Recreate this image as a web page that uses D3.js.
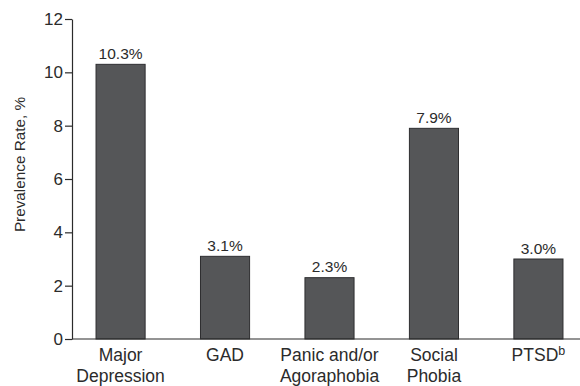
<!DOCTYPE html>
<html>
<head>
<meta charset="utf-8">
<script src="https://cdn.jsdelivr.net/npm/d3@7"></script>
<style>
  html, body { margin: 0; padding: 0; background: #fff; }
  svg { display: block; font-family: "Liberation Sans", Arial, sans-serif; }
</style>
</head>
<body>
<svg id="chart" width="580" height="386"></svg>
<script>
// Prevalence of mental disorders
const categories = ["Major Depression", "GAD", "Panic and/or Agoraphobia", "Social Phobia", "PTSD"];
const labelLines = [["Major", "Depression"], ["GAD"], ["Panic and/or", "Agoraphobia"], ["Social", "Phobia"], ["PTSD"]];
const values = [10.3, 3.1, 2.3, 7.9, 3.0];
const valueLabels = ["10.3%", "3.1%", "2.3%", "7.9%", "3.0%"];
const yTicks = [0, 2, 4, 6, 8, 10, 12];

const svg = d3.select("#chart");
const ink = "#2b2b2b";

const x = d3.scaleBand()
  .domain(categories)
  .range([72, 587])
  .paddingInner(0.53)
  .paddingOuter(0.23);

const y = d3.scaleLinear().domain([0, 12]).range([339, 19]);

// Bars
svg.append("g").selectAll("rect")
  .data(categories)
  .join("rect")
  .attr("x", d => x(d))
  .attr("y", (d, i) => y(values[i]))
  .attr("width", x.bandwidth())
  .attr("height", (d, i) => y(0) - y(values[i]))
  .attr("fill", "#555658")
  .attr("stroke", "#2e2e30")
  .attr("stroke-width", 1);

// Value labels
svg.append("g").selectAll("text")
  .data(categories)
  .join("text")
  .attr("x", d => x(d) + x.bandwidth() / 2)
  .attr("y", (d, i) => y(values[i]) - 5.5)
  .attr("text-anchor", "middle")
  .attr("font-size", 15.5)
  .attr("fill", ink)
  .text((d, i) => valueLabels[i]);

// Y axis
const yAxis = svg.append("g")
  .attr("transform", "translate(72,0)")
  .call(d3.axisLeft(y).tickValues(yTicks).tickSize(7).tickSizeOuter(0).tickPadding(2));
yAxis.select(".domain").attr("stroke", ink).attr("stroke-width", 1.2);
yAxis.selectAll(".tick line").attr("stroke", ink).attr("stroke-width", 1.2);
yAxis.selectAll(".tick text")
  .attr("font-size", 17)
  .attr("font-family", "Liberation Sans, Arial, sans-serif")
  .attr("fill", ink);

// X baseline
svg.append("line")
  .attr("x1", 72).attr("x2", 580)
  .attr("y1", y(0)).attr("y2", y(0))
  .attr("stroke", ink).attr("stroke-width", 1.2);

// Category labels
const cat = svg.append("g").selectAll("text")
  .data(categories)
  .join("text")
  .attr("x", d => x(d) + x.bandwidth() / 2)
  .attr("y", 361)
  .attr("text-anchor", "middle")
  .attr("font-size", 17.5)
  .attr("fill", ink);
cat.each(function(d, i) {
  const t = d3.select(this);
  labelLines[i].forEach((line, j) => {
    t.append("tspan")
      .attr("x", x(d) + x.bandwidth() / 2)
      .attr("dy", j === 0 ? 0 : 21)
      .text(line);
  });
  if (d === "PTSD") {
    t.append("tspan")
      .attr("dy", -6)
      .attr("font-size", 12.5)
      .text("b");
  }
});

// Y axis title
svg.append("text")
  .attr("transform", "translate(25,164.5) rotate(-90)")
  .attr("text-anchor", "middle")
  .attr("font-size", 15.3)
  .attr("fill", ink)
  .text("Prevalence Rate, %");
</script>
</body>
</html>
